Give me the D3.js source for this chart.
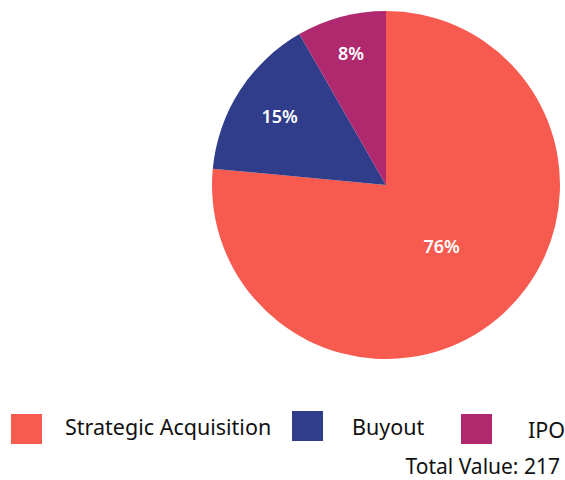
<!DOCTYPE html>
<html>
<head>
<meta charset="utf-8">
<script src="https://cdn.jsdelivr.net/npm/d3@7"></script>
<style>
  html, body { margin: 0; padding: 0; background: #fff; }
  svg text { font-family: "Source Sans Pro", "Noto Sans", Lato, sans-serif; }
</style>
</head>
<body>
<svg id="chart" width="565" height="480"></svg>
<script>
// Exit routes and their counts
const categories = ["Strategic Acquisition", "Buyout", "IPO"];
const values = [166, 33, 18];
const colors = ["#F75A4F", "#2F3D8A", "#B0296F"];
const totalLabel = "Total Value: ";

const svg = d3.select("#chart");
const cx = 386, cy = 185, radius = 174;

const total = d3.sum(values);
const data = categories.map((c, i) => ({ name: c, value: values[i], color: colors[i] }));

const pie = d3.pie().value(d => d.value).sort(null);
const arc = d3.arc().innerRadius(0).outerRadius(radius);
const arcs = pie(data);

const g = svg.append("g").attr("transform", `translate(${cx},${cy})`);

g.selectAll("path.slice")
  .data(arcs)
  .join("path")
  .attr("class", "slice")
  .attr("d", arc)
  .attr("fill", d => d.data.color);

// Percentage labels: small slices get their label pushed outward
const pct = d => d.data.value / total;
g.selectAll("text.pct")
  .data(arcs)
  .join("text")
  .attr("class", "pct")
  .attr("transform", d => {
    const r = radius * (0.93 - 0.52 * Math.sqrt(pct(d)));
    const a = (d.startAngle + d.endAngle) / 2;
    return `translate(${r * Math.sin(a)},${-r * Math.cos(a)})`;
  })
  .attr("text-anchor", "middle")
  .attr("dy", "0.36em")
  .attr("fill", "#fff")
  .attr("font-size", 18)
  .attr("font-weight", 600)
  .text(d => Math.round(pct(d) * 100) + "%");

// Legend
const legendX = [11, 292, 461];
const legendSwatchY = [414, 411, 414];
const legendTextX = [65, 352, 528];
const legendBaseline = [435, 435, 438];

const legend = svg.append("g").attr("class", "legend");
data.forEach((d, i) => {
  legend.append("rect")
    .attr("x", legendX[i]).attr("y", legendSwatchY[i])
    .attr("width", 31).attr("height", 30)
    .attr("fill", d.color);
  legend.append("text")
    .attr("x", legendTextX[i]).attr("y", legendBaseline[i])
    .attr("font-size", 21.5)
    .attr("fill", "#111")
    .text(d.name);
});

svg.append("text")
  .attr("x", 560).attr("y", 474)
  .attr("text-anchor", "end")
  .attr("font-size", 21)
  .attr("fill", "#111")
  .text(totalLabel + total);
</script>
</body>
</html>
